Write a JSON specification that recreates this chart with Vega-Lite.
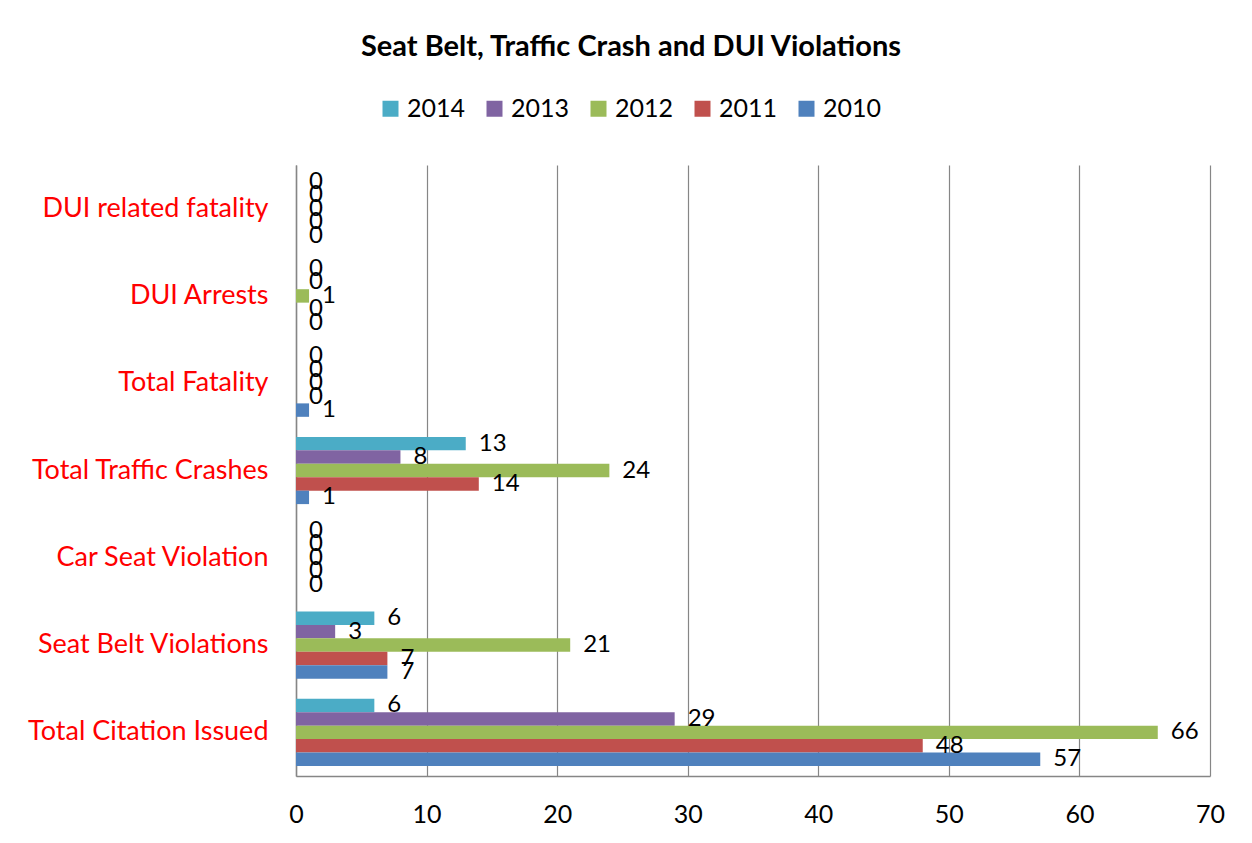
{
  "$schema": "https://vega.github.io/schema/vega-lite/v6.json",
  "width": 914,
  "height": 611,
  "autosize": {"type": "none"},
  "padding": {"left": 296, "top": 165, "right": 42, "bottom": 67},
  "background": "white",
  "config": {"font": "Lato", "view": {"stroke": null}},
  "title": {"text": "Seat Belt, Traffic Crash and DUI Violations", "fontSize": 29, "fontWeight": "bold", "color": "black", "anchor": "middle", "dx": -122, "offset": 34},
  "data": {"values": [
    {"category": "Total Citation Issued", "year": "2014", "value": 6},
    {"category": "Total Citation Issued", "year": "2013", "value": 29},
    {"category": "Total Citation Issued", "year": "2012", "value": 66},
    {"category": "Total Citation Issued", "year": "2011", "value": 48},
    {"category": "Total Citation Issued", "year": "2010", "value": 57},
    {"category": "Seat Belt Violations", "year": "2014", "value": 6},
    {"category": "Seat Belt Violations", "year": "2013", "value": 3},
    {"category": "Seat Belt Violations", "year": "2012", "value": 21},
    {"category": "Seat Belt Violations", "year": "2011", "value": 7},
    {"category": "Seat Belt Violations", "year": "2010", "value": 7},
    {"category": "Car Seat Violation", "year": "2014", "value": 0},
    {"category": "Car Seat Violation", "year": "2013", "value": 0},
    {"category": "Car Seat Violation", "year": "2012", "value": 0},
    {"category": "Car Seat Violation", "year": "2011", "value": 0},
    {"category": "Car Seat Violation", "year": "2010", "value": 0},
    {"category": "Total Traffic Crashes", "year": "2014", "value": 13},
    {"category": "Total Traffic Crashes", "year": "2013", "value": 8},
    {"category": "Total Traffic Crashes", "year": "2012", "value": 24},
    {"category": "Total Traffic Crashes", "year": "2011", "value": 14},
    {"category": "Total Traffic Crashes", "year": "2010", "value": 1},
    {"category": "Total Fatality", "year": "2014", "value": 0},
    {"category": "Total Fatality", "year": "2013", "value": 0},
    {"category": "Total Fatality", "year": "2012", "value": 0},
    {"category": "Total Fatality", "year": "2011", "value": 0},
    {"category": "Total Fatality", "year": "2010", "value": 1},
    {"category": "DUI Arrests", "year": "2014", "value": 0},
    {"category": "DUI Arrests", "year": "2013", "value": 0},
    {"category": "DUI Arrests", "year": "2012", "value": 1},
    {"category": "DUI Arrests", "year": "2011", "value": 0},
    {"category": "DUI Arrests", "year": "2010", "value": 0},
    {"category": "DUI related fatality", "year": "2014", "value": 0},
    {"category": "DUI related fatality", "year": "2013", "value": 0},
    {"category": "DUI related fatality", "year": "2012", "value": 0},
    {"category": "DUI related fatality", "year": "2011", "value": 0},
    {"category": "DUI related fatality", "year": "2010", "value": 0}
  ]},
  "encoding": {
    "y": {
      "field": "category", "type": "nominal",
      "sort": ["DUI related fatality", "DUI Arrests", "Total Fatality", "Total Traffic Crashes", "Car Seat Violation", "Seat Belt Violations", "Total Citation Issued"],
      "scale": {"paddingInner": 0.23, "paddingOuter": 0.115},
      "axis": {"title": null, "labelColor": "#FF0000", "labelFontSize": 27, "labelPadding": 28, "ticks": false, "domainColor": "#868686", "domainWidth": 1.5, "grid": false, "labelLimit": 400}
    },
    "yOffset": {"field": "year", "type": "nominal", "sort": ["2014", "2013", "2012", "2011", "2010"]},
    "x": {
      "field": "value", "type": "quantitative",
      "scale": {"domain": [0, 70], "nice": false},
      "axis": {"title": null, "values": [0, 10, 20, 30, 40, 50, 60, 70], "grid": true, "gridColor": "#868686", "gridWidth": 1.2, "domainColor": "#868686", "domainWidth": 1.5, "ticks": false, "labelFontSize": 25, "labelPadding": 26, "labelColor": "black", "labelFlush": false}
    }
  },
  "layer": [
    {
      "mark": {"type": "bar"},
      "encoding": {
        "color": {
          "field": "year", "type": "nominal",
          "scale": {"domain": ["2014", "2013", "2012", "2011", "2010"], "range": ["#4BACC6", "#8064A2", "#9BBB59", "#C0504D", "#4F81BD"]},
          "legend": {"title": null, "orient": "none", "direction": "horizontal", "legendX": 82, "legendY": -69, "symbolType": "square", "symbolSize": 256, "symbolStrokeWidth": 0, "labelFontSize": 25, "labelColor": "black", "labelOffset": 4, "columnPadding": 16}
        }
      }
    },
    {
      "mark": {"type": "text", "align": "left", "baseline": "middle", "dx": 13, "fontSize": 24, "color": "black"},
      "encoding": {"text": {"field": "value", "type": "quantitative"}}
    }
  ]
}
